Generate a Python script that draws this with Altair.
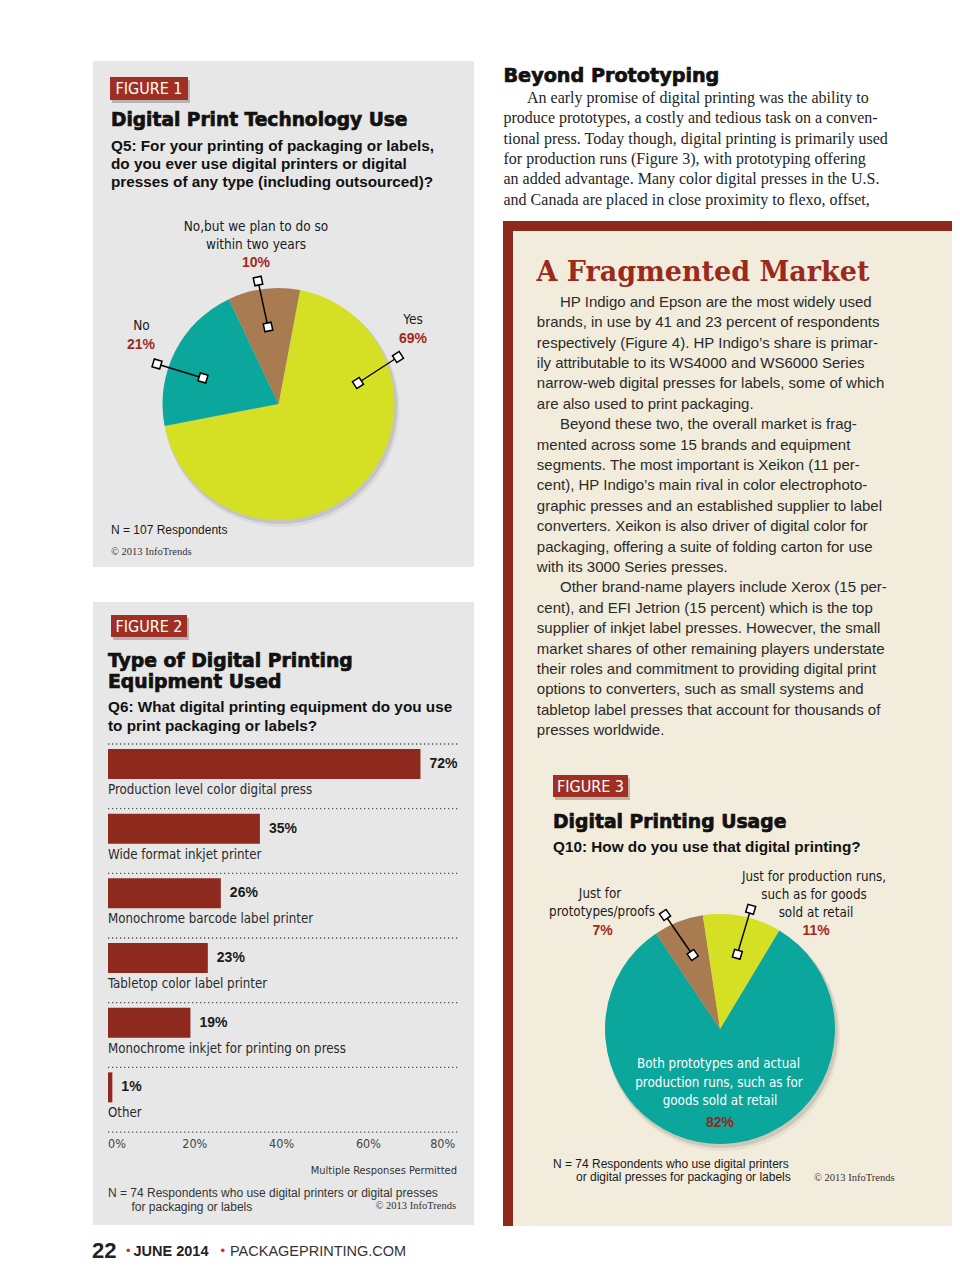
import math
import altair as alt
import pandas as pd

# ---------------- data (read from the page) ----------------
pie1_labels = ["Yes", "No", "No,but we plan to do so within two years"]
pie1_values = [69, 21, 10]

bar_labels = ["Production level color digital press", "Wide format inkjet printer",
              "Monochrome barcode label printer", "Tabletop color label printer",
              "Monochrome inkjet for printing on press", "Other"]
bar_values = [72, 35, 26, 23, 19, 1]
bar_axis_ticks = [0, 20, 40, 60, 80]

pie3_labels = ["Both prototypes and actual production runs, such as for goods sold at retail",
               "Just for prototypes/proofs",
               "Just for production runs, such as for goods sold at retail"]
pie3_values = [82, 7, 11]

# ---------------- styles ----------------
SANS = "Liberation Sans, Arial, Helvetica, sans-serif"
NARROW = "DejaVu Sans Condensed, Liberation Sans Narrow, Arial Narrow, sans-serif"
HEAVY = "DejaVu Sans, Verdana, sans-serif"
SERIF = "Liberation Serif, Times New Roman, serif"
SLAB = "DejaVu Serif, Georgia, serif"
TEAL = "#0ba69c"
LIME = "#d5df23"
BROWN = "#a87b50"
BRICK = "#8d2a1d"
FIGRED = "#9f2f22"
REDTXT = "#a3291d"
GRAYPANEL = "#e7e7e7"
CREAM = "#f2ecdc"
INK = "#222222"

OFF = 8  # page margin


def px(v):
    return v - OFF


DUMMY = pd.DataFrame({"d": [0]})


def box(x0, y0, x1, y1, color, opacity=1.0):
    return alt.Chart(DUMMY).mark_rect(color=color, opacity=opacity).encode(
        x=alt.value(px(x0)), x2=alt.value(px(x1)), y=alt.value(px(y0)), y2=alt.value(px(y1)))


def text_block(lines, xs, ys, size, font, weight="normal", color=INK, align="left", heavy=0):
    if not isinstance(xs, list):
        xs = [xs] * len(lines)
    df = pd.DataFrame({"t": lines, "x": [px(v) for v in xs], "y": [px(v) for v in ys]})
    kw = {}
    if heavy:
        kw = dict(stroke=color, strokeWidth=heavy)
    return alt.Chart(df).mark_text(font=font, fontSize=size, fontWeight=weight, color=color,
                                   align=align, baseline="middle", **kw).encode(
        x=alt.X("x:Q", scale=None, axis=None), y=alt.Y("y:Q", scale=None, axis=None), text="t:N")


def lines_at(y0, pitch, n):
    return [y0 + i * pitch for i in range(n)]


def fig_label(x0, y0, x1, y1, label):
    return [box(x0 + 2, y0 + 3, x1 + 2, y1 + 3, "#000000", 0.22),
            box(x0, y0, x1, y1, FIGRED),
            text_block([label], [(x0 + x1) / 2], [(y0 + y1) / 2 + 0.5], 16, NARROW,
                       color="white", align="center")]


def pie(labels, values, colors, cx, cy, r, start_deg):
    df = pd.DataFrame({"c": labels, "v": values, "i": list(range(len(labels)))})
    a0 = math.radians(start_deg)
    shadow = [
        alt.Chart(DUMMY).mark_arc(theta=0, theta2=2 * math.pi, radius=r + 1, color="#000000",
                                  opacity=0.10).encode(x=alt.value(px(cx) + 2), y=alt.value(px(cy) + 3)),
        alt.Chart(DUMMY).mark_arc(theta=0, theta2=2 * math.pi, radius=r + 2, color="#000000",
                                  opacity=0.05).encode(x=alt.value(px(cx) + 3), y=alt.value(px(cy) + 5)),
    ]
    arc = alt.Chart(df).mark_arc(radius=r).encode(
        theta=alt.Theta("v:Q", stack=True,
                        scale=alt.Scale(domain=[0, sum(values)], range=[a0, a0 + 2 * math.pi])),
        color=alt.Color("c:N", scale=alt.Scale(domain=labels, range=colors), legend=None),
        order=alt.Order("i:Q"),
        x=alt.value(px(cx)), y=alt.value(px(cy)))
    return shadow + [arc]


def callouts(pts):
    rows = []
    for (x1, y1, x2, y2) in pts:
        ang = math.degrees(math.atan2(y2 - y1, x2 - x1)) % 90
        rows.append({"x1": px(x1), "y1": px(y1), "x2": px(x2), "y2": px(y2), "a": ang})
    df = pd.DataFrame(rows)
    rule = alt.Chart(df).mark_rule(color="black", strokeWidth=1.4).encode(
        x=alt.X("x1:Q", scale=None, axis=None), y=alt.Y("y1:Q", scale=None, axis=None),
        x2="x2:Q", y2="y2:Q")
    out = [rule]
    for xf, yf in (("x1", "y1"), ("x2", "y2")):
        out.append(alt.Chart(df).mark_point(shape="square", filled=True, fill="white", stroke="black",
                                            strokeWidth=1.5, size=64, opacity=1).encode(
            x=alt.X(f"{xf}:Q", scale=None, axis=None), y=alt.Y(f"{yf}:Q", scale=None, axis=None),
            angle=alt.Angle("a:Q", scale=None)))
    return out


layers = []

# ---------------- backgrounds ----------------
layers += [box(93, 61, 474, 567, GRAYPANEL), box(93, 602, 474, 1225, GRAYPANEL),
           box(503, 221, 960, 1226, BRICK), box(513, 231, 960, 1226, CREAM)]

# ---------------- FIGURE 1 ----------------
layers += fig_label(110, 77, 188, 100, "FIGURE 1")
layers.append(text_block(["Digital Print Technology Use"], [111], [120], 18.6, HEAVY, weight="bold",
                         color="#111", heavy=0.7))
layers.append(text_block(["Q5: For your printing of packaging or labels,",
                          "do you ever use digital printers or digital",
                          "presses of any type (including outsourced)?"],
                         111, [146, 164, 182], 15.3, SANS, weight="bold", color="#111"))
layers += pie(pie1_labels, pie1_values, [LIME, TEAL, BROWN], 278.5, 404, 116, 10.7)
layers += callouts([(358, 383, 398, 357), (203, 378, 157, 364), (268, 327, 258, 281)])
layers.append(text_block(["No,but we plan to do so", "within two years", "No", "Yes"],
                         [256, 256, 141.5, 413], [227, 244.5, 326, 320], 13.5, NARROW,
                         color="#1a1a1a", align="center"))
layers.append(text_block(["10%", "21%", "69%"], [256, 141, 413], [263, 345, 338.5], 14, SANS,
                         weight="bold", color=REDTXT, align="center"))
layers.append(text_block(["N = 107 Respondents"], [111], [529.5], 12, SANS, color="#1a1a1a"))
layers.append(text_block(["\u00a9 2013 InfoTrends"], [111], [552], 10.5, SERIF, color="#333"))

# ---------------- FIGURE 2 ----------------
layers += fig_label(111, 615, 187, 637, "FIGURE 2")
layers.append(text_block(["Type of Digital Printing", "Equipment Used"], 108, [661, 682], 18.8, HEAVY,
                         weight="bold", color="#111", heavy=0.7))
layers.append(text_block(["Q6: What digital printing equipment do you use", "to print packaging or labels?"],
                         108, [707, 726], 15.3, SANS, weight="bold", color="#111"))

bars_df = pd.DataFrame({"c": bar_labels, "v": bar_values})
XS2 = alt.Scale(domain=[0, 80], range=[px(108), px(108 + 4.34 * 80)])
YS2 = alt.Scale(type="band", domain=bar_labels, range=[px(749), px(749 + 5 * 64.67 + 30)],
                paddingInner=0.536, paddingOuter=0)
ych = alt.Y("c:N", scale=YS2, axis=None, sort=None)
ymid = alt.Y("c:N", scale=YS2, axis=None, sort=None, bandPosition=0.5)
dotted = dict(color="#555555", strokeWidth=1.3, strokeDash=[1.3, 2.7])
layers.append(alt.Chart(bars_df).mark_rule(yOffset=-20, **dotted).encode(
    y=ymid, x=alt.value(px(108)), x2=alt.value(px(458))))
layers.append(alt.Chart(bars_df).transform_filter(alt.datum.c == bar_labels[-1]).mark_rule(
    yOffset=44.7, **dotted).encode(y=ymid, x=alt.value(px(108)), x2=alt.value(px(458))))
layers.append(alt.Chart(bars_df).mark_bar(color=BRICK).encode(
    x=alt.X("v:Q", scale=XS2, axis=None), y=ych))
layers.append(alt.Chart(bars_df).transform_calculate(lab="datum.v + '%'").mark_text(
    align="left", baseline="middle", dx=9, font=SANS, fontWeight="bold", fontSize=14,
    color="#1a1a1a").encode(x=alt.X("v:Q", scale=XS2, axis=None), y=ymid, text="lab:N"))
layers.append(alt.Chart(bars_df).mark_text(
    align="left", baseline="middle", dy=26, font=NARROW, fontSize=13.2, color="#2a2a2a").encode(
    x=alt.value(px(108)), y=ymid, text="c:N"))

ticks_df = pd.DataFrame({"v": bar_axis_ticks})
for cond, al in (("datum.v == 0", "left"), ("datum.v > 0 && datum.v < 80", "center"), ("datum.v == 80", "right")):
    layers.append(alt.Chart(ticks_df).transform_filter(cond).transform_calculate(
        lab="datum.v + '%'").mark_text(align=al, baseline="middle", font=NARROW, fontSize=12.5,
                                       color="#444").encode(
        x=alt.X("v:Q", scale=XS2, axis=None), y=alt.value(px(1144)), text="lab:N"))

layers.append(text_block(["Multiple Responses Permitted"], [457], [1171], 11, NARROW, color="#333",
                         align="right"))
layers.append(text_block(["N = 74 Respondents who use digital printers or digital presses",
                          "for packaging or labels"], [108, 131.5], [1192.5, 1207], 12, SANS,
                         color="#333"))
layers.append(text_block(["\u00a9 2013 InfoTrends"], [456], [1206], 10.5, SERIF, color="#333",
                         align="right"))

# ---------------- right column article ----------------
layers.append(text_block(["Beyond Prototyping"], [503.5], [76], 19.2, HEAVY, weight="bold",
                         color="#111", heavy=0.7))
top_lines = ["An early promise of digital printing was the ability to",
             "produce prototypes, a costly and tedious task on a conven-",
             "tional press. Today though, digital printing is primarily used",
             "for production runs (Figure 3), with prototyping offering",
             "an added advantage. Many color digital presses in the U.S.",
             "and Canada are placed in close proximity to flexo, offset,"]
layers.append(text_block(top_lines, [527] + [503.5] * 5, lines_at(98, 20.3, 6), 16, SERIF,
                         color="#1e1e1e"))

layers.append(text_block(["A Fragmented Market"], [536.5], [272.5], 27, SLAB, weight="bold",
                         color="#9b2a1e"))
box_lines = ["HP Indigo and Epson are the most widely used",
             "brands, in use by 41 and 23 percent of respondents",
             "respectively (Figure 4). HP Indigo\u2019s share is primar-",
             "ily attributable to its WS4000 and WS6000 Series",
             "narrow-web digital presses for labels, some of which",
             "are also used to print packaging.",
             "Beyond these two, the overall market is frag-",
             "mented across some 15 brands and equipment",
             "segments. The most important is Xeikon (11 per-",
             "cent), HP Indigo\u2019s main rival in color electrophoto-",
             "graphic presses and an established supplier to label",
             "converters. Xeikon is also driver of digital color for",
             "packaging, offering a suite of folding carton for use",
             "with its 3000 Series presses.",
             "Other brand-name players include Xerox (15 per-",
             "cent), and EFI Jetrion (15 percent) which is the top",
             "supplier of inkjet label presses. Howecver, the small",
             "market shares of other remaining players understate",
             "their roles and commitment to providing digital print",
             "options to converters, such as small systems and",
             "tabletop label presses that account for thousands of",
             "presses worldwide."]
indents = {0, 6, 14}
box_xs = [560 if i in indents else 536.8 for i in range(len(box_lines))]
layers.append(text_block(box_lines, box_xs, lines_at(301.7, 20.4, len(box_lines)), 15, SANS,
                         color="#2a2a2a"))

# ---------------- FIGURE 3 ----------------
layers += fig_label(553, 775, 628, 797, "FIGURE 3")
layers.append(text_block(["Digital Printing Usage"], [553], [822], 18.8, HEAVY, weight="bold",
                         color="#111", heavy=0.7))
layers.append(text_block(["Q10: How do you use that digital printing?"], [553], [846.5], 15.3, SANS,
                         weight="bold", color="#111"))
layers += pie(pie3_labels, pie3_values, [TEAL, BROWN, LIME], 720, 1029, 115, 31)
layers += callouts([(692.7, 955, 665, 915), (737.3, 954.3, 750.7, 909.3)])
layers.append(text_block(["Just for", "prototypes/proofs", "Just for production runs,",
                          "such as for goods", "sold at retail"],
                         [600, 602, 814, 814, 816], [893.5, 911.7, 876.5, 894.5, 912.5], 13.3, NARROW,
                         color="#1a1a1a", align="center"))
layers.append(text_block(["7%", "11%"], [602.5, 816], [931, 931], 14, SANS, weight="bold",
                         color=REDTXT, align="center"))
layers.append(text_block(["Both prototypes and actual", "production runs, such as for", "goods sold at retail"],
                         [718.5, 719, 720], [1064, 1082.5, 1101], 13.3, NARROW, color="white",
                         align="center"))
layers.append(text_block(["82%"], [720], [1123], 14, SANS, weight="bold", color="#8f2a1e", align="center"))
layers.append(text_block(["N = 74 Respondents who use digital printers",
                          "or digital presses for packaging or labels"], [553, 576], [1163.5, 1177],
                         12, SANS, color="#1a1a1a"))
layers.append(text_block(["\u00a9 2013 InfoTrends"], [814], [1178], 10.5, SERIF, color="#333"))

# ---------------- page footer ----------------
layers.append(text_block(["22"], [92], [1251], 22, SANS, weight="bold", color="#222"))
layers.append(text_block(["\u2022", "\u2022"], [128.3, 222.7], [1251, 1251], 13, SANS, color="#d42a2a",
                         align="center"))
layers.append(text_block(["JUNE 2014"], [133.5], [1251.5], 14.5, SANS, weight="bold", color="#222"))
layers.append(text_block(["PACKAGEPRINTING.COM"], [230], [1251.5], 14.5, SANS, color="#333"))

chart = alt.layer(*layers, data=DUMMY).resolve_scale(
    x="independent", y="independent", theta="independent", color="independent", angle="independent"
).properties(
    width=944, height=1271, padding=0, autosize=alt.AutoSizeParams(type="none"), background="white"
).configure_view(stroke=None)

chart.save("out.html", embed_options={"renderer": "svg", "actions": False})
